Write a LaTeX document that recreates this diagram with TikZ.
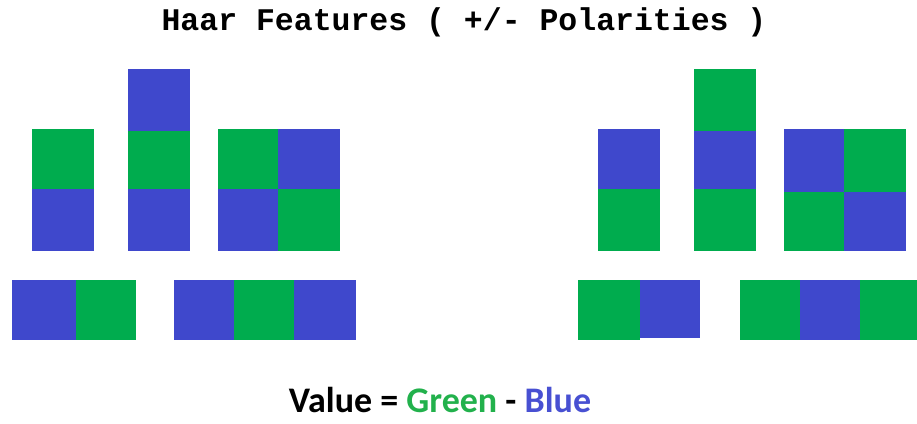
\documentclass[tikz,border=0pt]{standalone}
\usepackage{fontspec}
\newfontfamily\titlefont{Liberation Mono}
\newfontfamily\valuefont{Carlito}
\definecolor{hgreen}{RGB}{0,172,78}
\definecolor{hblue}{RGB}{63,72,204}
\definecolor{tgreen}{RGB}{34,177,76}
\definecolor{tblue}{RGB}{72,80,210}
\begin{document}
\begin{tikzpicture}[x=1pt,y=-1pt,
  gcell/.style={fill=hgreen},
  bcell/.style={fill=hblue}]
\useasboundingbox (0,0) rectangle (917,423);
% title
\node[font=\titlefont\bfseries\fontsize{31.5}{33}\selectfont, inner sep=0pt] (title) at (464,22) {Haar Features ( +/- Polarities )};
% ---- left group (top row)
\fill[gcell] (32,129) rectangle (94,189);
\fill[bcell] (32,189) rectangle (94,251);
\fill[bcell] (128,69) rectangle (190,131);
\fill[gcell] (128,131) rectangle (190,189);
\fill[bcell] (128,189) rectangle (190,251);
\fill[gcell] (218,129) rectangle (278,189);
\fill[bcell] (278,129) rectangle (340,189);
\fill[bcell] (218,189) rectangle (278,251);
\fill[gcell] (278,189) rectangle (340,251);
% ---- right group (top row)
\fill[bcell] (598,129) rectangle (660,189);
\fill[gcell] (598,189) rectangle (660,251);
\fill[gcell] (694,69) rectangle (756,131);
\fill[bcell] (694,131) rectangle (756,189);
\fill[gcell] (694,189) rectangle (756,251);
\fill[bcell] (784,129) rectangle (844,192);
\fill[gcell] (844,129) rectangle (906,192);
\fill[gcell] (784,192) rectangle (844,251);
\fill[bcell] (844,192) rectangle (906,251);
% ---- bottom row left
\fill[bcell] (12,280) rectangle (76,340);
\fill[gcell] (76,280) rectangle (136,340);
\fill[bcell] (174,280) rectangle (234,340);
\fill[gcell] (234,280) rectangle (294,340);
\fill[bcell] (294,280) rectangle (356,340);
% ---- bottom row right
\fill[gcell] (578,280) rectangle (640,340);
\fill[bcell] (640,280) rectangle (700,338);
\fill[gcell] (740,280) rectangle (800,340);
\fill[bcell] (800,280) rectangle (860,340);
\fill[gcell] (860,280) rectangle (917,340);
% caption
\node[font=\valuefont\bfseries\fontsize{36}{40}\selectfont, inner sep=0pt, anchor=base] (value) at (440,412)
  {Value = \textcolor{tgreen}{Green} - \textcolor{tblue}{Blue}};
\end{tikzpicture}
\end{document}
